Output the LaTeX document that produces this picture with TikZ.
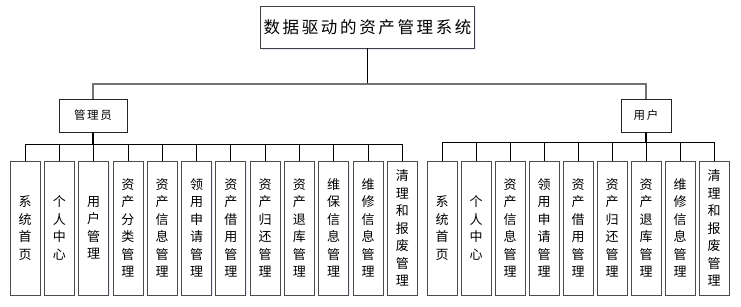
\documentclass[tikz,border=0pt]{standalone}
\usepackage{fontspec}
\newfontfamily\cjk{Noto Sans CJK SC}
\newfontfamily\cjktitle[LetterSpace=16]{Noto Sans CJK SC}
\newfontfamily\cjkrole[LetterSpace=14]{Noto Sans CJK SC}
\usetikzlibrary{shadows}
\tikzset{
    topbox/.style={rectangle, draw=black!75, fill=white, line width=0.8pt, minimum width=209pt, minimum height=42pt,
        font=\cjktitle\fontsize{16.5}{18}\selectfont, drop shadow={shadow xshift=1.5pt, shadow yshift=-1.5pt, fill=blue!30, opacity=0.3}},
    rolebox/.style={rectangle, draw=black!85, fill=white, line width=0.7pt, minimum height=33pt, inner sep=0pt,
        font=\cjkrole\fontsize{11.5}{13}\selectfont},
    leafbox/.style={rectangle, draw=black!70, fill=white, line width=0.8pt, minimum width=30pt, minimum height=134pt,
        inner sep=0pt, align=center, font=\cjk\fontsize{13}{17.5}\selectfont,
        drop shadow={shadow xshift=1pt, shadow yshift=-1pt, fill=blue!25, opacity=0.3}},
    bus/.style={draw=black!55, line width=1.2pt},
    link/.style={draw=black, line width=0.7pt}
}
\begin{document}
\begin{tikzpicture}[x=1pt, y=-1pt]
    \useasboundingbox (0,0) rectangle (741,306);

    % root and roles
    \node[topbox] (root) at (367.5,27) {数据驱动的资产管理系统};
    \node[rolebox, minimum width=68pt] (admin) at (93,115.5) {管理员};
    \node[rolebox, minimum width=50pt] (user) at (646,115.5) {用户};

    \coordinate (tb) at (367.5,84);
    \coordinate (abus) at (93,144);
    \coordinate (ubus) at (646,142);

    \draw[link] (root) -- (tb);
    \draw[bus] (admin.north) |- (tb) -| (user.north);
    \draw[link, line width=1.4pt] (admin) -- (abus);
    \draw[link, line width=1.4pt] (user) -- (ubus);

    % admin functions
    \foreach \t [count=\i] in {{系\\统\\首\\页}, {个\\人\\中\\心}, {用\\户\\管\\理},
        {资\\产\\分\\类\\管\\理}, {资\\产\\信\\息\\管\\理}, {领\\用\\申\\请\\管\\理},
        {资\\产\\借\\用\\管\\理}, {资\\产\\归\\还\\管\\理}, {资\\产\\退\\库\\管\\理},
        {维\\保\\信\\息\\管\\理}, {维\\修\\信\\息\\管\\理}, {清\\理\\和\\报\\废\\管\\理}}
    {
        \node[leafbox] (a\i) at ({25+34.3*(\i-1)},228) {\t};
        \draw[link] (abus) -| (a\i.north);
    }

    % user functions
    \foreach \t [count=\i] in {{系\\统\\首\\页}, {个\\人\\中\\心}, {资\\产\\信\\息\\管\\理},
        {领\\用\\申\\请\\管\\理}, {资\\产\\借\\用\\管\\理}, {资\\产\\归\\还\\管\\理},
        {资\\产\\退\\库\\管\\理}, {维\\修\\信\\息\\管\\理}, {清\\理\\和\\报\\废\\管\\理}}
    {
        \node[leafbox] (u\i) at ({442+34*(\i-1)},228) {\t};
        \draw[link] (ubus) -| (u\i.north);
    }
\end{tikzpicture}
\end{document}
